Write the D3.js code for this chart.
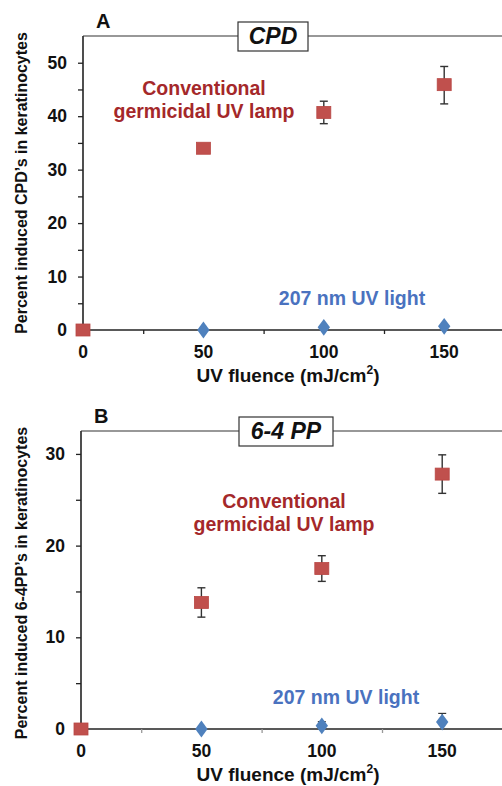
<!DOCTYPE html>
<html>
<head>
<meta charset="utf-8">
<script src="https://cdn.jsdelivr.net/npm/d3@7"></script>
<style>
  body { margin: 0; background: #fff; }
  text { font-family: Arial, "Liberation Sans", sans-serif; }
</style>
</head>
<body>
<svg id="chart" width="502" height="786"></svg>
<script>
// fluence values (mJ/cm2)
const fluence = [0, 50, 100, 150];

// panel A - CPD
const cpdLamp = [0, 34.0, 40.7, 45.9];
const cpdLampLo = [0, 34.0, 38.6, 42.3];
const cpdLampHi = [0, 34.0, 42.8, 49.3];
const cpd207 = [null, 0.0, 0.5, 0.7];

// panel B - 6-4 PP
const ppLamp = [0, 13.8, 17.5, 27.8];
const ppLampLo = [0, 12.2, 16.1, 25.7];
const ppLampHi = [0, 15.4, 18.9, 29.9];
const pp207 = [null, 0.0, 0.35, 0.75];
const pp207Hi = [null, 0.0, 0.8, 1.7];

const xTicks = [0, 50, 100, 150];
const xMinor = [25, 75, 125];

const red = "#c0504d", blue = "#4f81bd";
const redText = "#a4282a", blueText = "#4a72bf";

const svg = d3.select("#chart");

function panel(o) {
  const g = svg.append("g");
  const x = d3.scaleLinear().domain([0, 174]).range([o.left, o.left + 419]);
  const y = d3.scaleLinear().domain([0, o.ymax]).range([o.bottom, o.top]);

  // y axis
  const yAx = g.append("g").attr("transform", `translate(${o.left},0)`)
    .call(d3.axisLeft(y).tickValues(d3.range(0, o.ymax, 5)).tickSize(5)
      .tickFormat(d => d % 10 === 0 ? d : ""));
  yAx.select(".domain").attr("d", `M-0,${y(o.ymax)}V${o.bottom}`).attr("stroke", "#222").attr("stroke-width", 1.6);
  yAx.selectAll(".tick line").attr("stroke", "#222").attr("stroke-width", 1.3);
  yAx.selectAll("text").attr("font-size", 17.5).attr("font-weight", "bold").attr("fill", "#111").attr("dx", -8);

  // top frame line
  g.append("line").attr("x1", o.left).attr("x2", 502)
    .attr("y1", y(o.ymax)).attr("y2", y(o.ymax))
    .attr("stroke", "#333").attr("stroke-width", 1.2);

  // x axis
  const xAx = g.append("g").attr("transform", `translate(0,${o.bottom})`)
    .call(d3.axisBottom(x).tickValues(xMinor).tickSize(4).tickFormat(""));
  xAx.select(".domain").attr("d", `M${o.left},0H502`).attr("stroke", "#222").attr("stroke-width", 1.4);
  xAx.selectAll(".tick line").attr("stroke", o.tickCol).attr("stroke-width", 1.3);

  g.selectAll(".xl").data(xTicks).join("text")
    .attr("x", d => x(d)).attr("y", o.bottom + 28)
    .attr("text-anchor", "middle").attr("font-size", 17.5).attr("font-weight", "bold")
    .attr("fill", "#111").text(d => d);

  const xt = g.append("text").attr("x", 288).attr("y", o.bottom + 52)
    .attr("text-anchor", "middle").attr("font-size", 19).attr("font-weight", "bold").attr("fill", "#111");
  xt.append("tspan").text("UV fluence (mJ/cm");
  xt.append("tspan").attr("font-size", 12).attr("dy", -8).text("2");
  xt.append("tspan").attr("dy", 8).text(")");

  // y title
  g.append("text")
    .attr("transform", `translate(27,${o.ytitleY}) rotate(-90)`)
    .attr("text-anchor", "middle").attr("font-size", 16).attr("font-weight", "bold").attr("fill", "#111")
    .text(o.ytitle);

  // panel letter
  g.append("text").attr("x", o.left + 13).attr("y", o.top - 8)
    .attr("font-size", 20).attr("font-weight", "bold").attr("fill", "#111").text(o.letter);

  // title box
  g.append("rect").attr("x", o.boxX).attr("y", o.top - 14).attr("width", o.boxW).attr("height", 29)
    .attr("fill", "#fff").attr("stroke", "#333").attr("stroke-width", 1.2);
  g.append("text").attr("x", o.boxX + o.boxW / 2).attr("y", o.top + 8)
    .attr("text-anchor", "middle").attr("font-size", 23).attr("font-weight", "bold").attr("font-style", "italic")
    .attr("fill", "#111").text(o.title);

  // lamp error bars
  const lamp = fluence.map((f, i) => ({ f, v: o.lamp[i], lo: o.lampLo[i], hi: o.lampHi[i] }));
  const eb = g.selectAll(".eb").data(lamp.filter(d => d.hi > d.lo)).join("g").attr("stroke", "#333").attr("stroke-width", 1.4);
  eb.append("line").attr("x1", d => x(d.f)).attr("x2", d => x(d.f)).attr("y1", d => y(d.lo)).attr("y2", d => y(d.hi));
  eb.append("line").attr("x1", d => x(d.f) - 4).attr("x2", d => x(d.f) + 4).attr("y1", d => y(d.lo)).attr("y2", d => y(d.lo));
  eb.append("line").attr("x1", d => x(d.f) - 4).attr("x2", d => x(d.f) + 4).attr("y1", d => y(d.hi)).attr("y2", d => y(d.hi));

  // 207 nm data
  const uv = fluence.map((f, i) => ({ f, v: o.uv[i], hi: o.uvHi ? o.uvHi[i] : null })).filter(d => d.v !== null);
  const ub = g.selectAll(".ub").data(uv.filter(d => d.hi !== null && d.hi > d.v)).join("g").attr("stroke", "#333").attr("stroke-width", 1.2);
  ub.append("line").attr("x1", d => x(d.f)).attr("x2", d => x(d.f)).attr("y1", d => y(d.v)).attr("y2", d => y(d.hi));
  ub.append("line").attr("x1", d => x(d.f) - 4).attr("x2", d => x(d.f) + 4).attr("y1", d => y(d.hi)).attr("y2", d => y(d.hi));

  g.selectAll(".dia").data(uv).join("path")
    .attr("d", d3.symbol(d3.symbolDiamond, 100))
    .attr("transform", d => `translate(${x(d.f)},${y(d.v)}) scale(1.15,0.9)`)
    .attr("fill", blue);

  g.selectAll(".sq").data(lamp).join("rect")
    .attr("x", d => x(d.f) - 7).attr("y", d => y(d.v) - 6)
    .attr("width", 14).attr("height", 12)
    .attr("fill", red).attr("stroke", "#b84744").attr("stroke-width", 0.8);

  // annotations
  const lt = g.append("text").attr("text-anchor", "middle").attr("font-size", 19.5).attr("font-weight", "bold").attr("fill", redText);
  lt.append("tspan").attr("x", o.lampX).attr("y", o.lampY).text("Conventional");
  lt.append("tspan").attr("x", o.lampX).attr("y", o.lampY + 23).text("germicidal UV lamp");
  g.append("text").attr("x", o.uvX).attr("y", o.uvY).attr("text-anchor", "middle")
    .attr("font-size", 19.5).attr("font-weight", "bold").attr("fill", blueText).text("207 nm UV light");
}

panel({
  letter: "A", title: "CPD", left: 83, top: 36, bottom: 330, ymax: 55,
  boxX: 238, boxW: 70, tickCol: "#222",
  ytitle: "Percent induced CPD\u2019s in keratinocytes", ytitleY: 183,
  lamp: cpdLamp, lampLo: cpdLampLo, lampHi: cpdLampHi, uv: cpd207, uvHi: null,
  lampX: 204, lampY: 95, uvX: 352, uvY: 305
});

panel({
  letter: "B", title: "6-4 PP", left: 81, top: 431, bottom: 729, ymax: 32.5,
  boxX: 239, boxW: 94, tickCol: "#999",
  ytitle: "Percent induced 6-4PP\u2019s in keratinocytes", ytitleY: 583,
  lamp: ppLamp, lampLo: ppLampLo, lampHi: ppLampHi, uv: pp207, uvHi: pp207Hi,
  lampX: 284, lampY: 508, uvX: 346, uvY: 704
});
</script>
</body>
</html>
